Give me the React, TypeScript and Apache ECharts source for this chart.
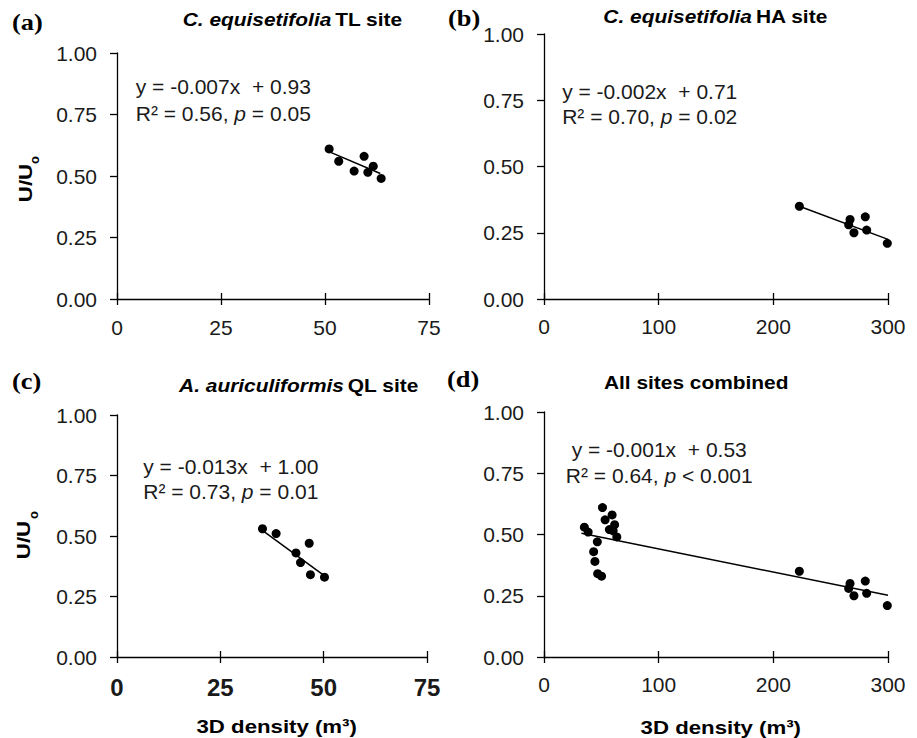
import React, { useEffect, useRef } from "react";
import * as echarts from "echarts";

// ---- data ----
const tlDensity = [51.0, 53.3, 57.0, 59.4, 60.3, 61.6, 63.5];
const tlRatio = [0.61, 0.56, 0.52, 0.58, 0.515, 0.54, 0.49];
const haDensity = [222.7, 266.9, 265.7, 270.3, 280.2, 281.4, 299.4];
const haRatio = [0.35, 0.3, 0.28, 0.25, 0.31, 0.26, 0.21];
const qlDensity = [35.2, 38.5, 43.3, 44.4, 46.5, 46.8, 50.2];
const qlRatio = [0.53, 0.51, 0.43, 0.39, 0.47, 0.34, 0.33];

const trendTL = [[50.8, 0.6], [63.3, 0.51]];
const trendHA = [[222.7, 0.35], [300, 0.225]];
const trendQL = [[35, 0.525], [49.8, 0.34]];
const trendAll = [[32.6, 0.505], [300, 0.252]];

const yTicksMax = 1;
const yInterval = 0.25;
const xMaxSmall = 75;
const xIntSmall = 25;
const xMaxLarge = 300;
const xIntLarge = 100;

const titles = ["TL site", "HA site", "QL site", "All sites combined"];
const speciesNames = ["C. equisetifolia", "C. equisetifolia", "A. auriculiformis", ""];
const panelTags = ["(a)", "(b)", "(c)", "(d)"];
const eqLine1 = ["y = -0.007x  + 0.93", "y = -0.002x  + 0.71", "y = -0.013x  + 1.00", "y = -0.001x  + 0.53"];
const eqR2 = ["R² = 0.56, ", "R² = 0.70, ", "R² = 0.73, ", "R² = 0.64, "];
const eqP = [" = 0.05", " = 0.02", " = 0.01", " < 0.001"];
const yName = "U/U";
const xName = "3D density (m³)";

const zip = (xs: number[], ys: number[]) => xs.map((x, i) => [x, ys[i]]);
const allDensity = [...tlDensity, ...haDensity, ...qlDensity];
const allRatio = [...tlRatio, ...haRatio, ...qlRatio];

const SANS = "'Liberation Sans', Arial, sans-serif";
const SERIF = "'Liberation Serif', 'Times New Roman', serif";
const TXT = "#1a1a1a";

export default function App() {
  const ref = useRef<HTMLDivElement>(null);

  useEffect(() => {
    if (!ref.current) return;
    const chart = echarts.init(ref.current, undefined, { renderer: "svg" });

    const grids = [
      { left: 117, top: 53, width: 312, height: 246 },
      { left: 544, top: 34, width: 344, height: 265 },
      { left: 117, top: 415, width: 310, height: 242 },
      { left: 544, top: 412, width: 344, height: 245 },
    ];
    const xMax = [xMaxSmall, xMaxLarge, xMaxSmall, xMaxLarge];
    const xInt = [xIntSmall, xIntLarge, xIntSmall, xIntLarge];
    const xMargin = [18, 17, 18, 17];

    const xAxes: any[] = [];
    grids.forEach((_, i) => {
      const boldLabels = i === 2;
      xAxes.push({
        gridIndex: i,
        type: "value",
        position: "bottom",
        min: 0,
        max: xMax[i],
        interval: xInt[i],
        axisLine: { show: true, onZero: false, lineStyle: { color: "#000", width: 1.3 } },
        axisTick: { show: true, length: 6, lineStyle: { color: "#000", width: 1.3 } },
        axisLabel: {
          margin: xMargin[i],
          fontSize: boldLabels ? 24 : 21,
          fontWeight: boldLabels ? "bold" : "normal",
          color: TXT,
          fontFamily: SANS,
        },
        splitLine: { show: false },
      });
    });
    grids.forEach((_, i) => {
      xAxes.push({
        gridIndex: i,
        type: "value",
        position: "bottom",
        min: 0,
        max: xMax[i],
        interval: xInt[i],
        axisLine: { show: false, onZero: false },
        axisTick: { show: true, inside: true, length: 6, lineStyle: { color: "#000", width: 1.3 } },
        axisLabel: { show: false },
        splitLine: { show: false },
      });
    });

    const yAxes = grids.map((_, i) => ({
      gridIndex: i,
      type: "value",
      min: 0,
      max: yTicksMax,
      interval: yInterval,
      axisLine: { show: true, onZero: false, lineStyle: { color: "#000", width: 1.3 } },
      axisTick: { show: true, length: 7, lineStyle: { color: "#000", width: 1.3 } },
      axisLabel: {
        margin: 20,
        fontSize: 21,
        color: TXT,
        fontFamily: SANS,
        formatter: (v: number) => v.toFixed(2),
      },
      splitLine: { show: false },
    }));

    const scatterData = [
      zip(tlDensity, tlRatio),
      zip(haDensity, haRatio),
      zip(qlDensity, qlRatio),
      zip(allDensity, allRatio),
    ];
    const trends = [trendTL, trendHA, trendQL, trendAll];

    const series: any[] = [];
    grids.forEach((_, i) => {
      series.push({
        type: "line",
        xAxisIndex: i,
        yAxisIndex: i,
        data: trends[i],
        showSymbol: false,
        symbol: "none",
        lineStyle: { color: "#000", width: 1.5 },
        silent: true,
        z: 2,
      });
      series.push({
        type: "scatter",
        xAxisIndex: i,
        yAxisIndex: i,
        data: scatterData[i],
        symbol: "circle",
        symbolSize: 9,
        itemStyle: { color: "#000", opacity: 1 },
        z: 3,
      });
    });

    const titlePos = [
      [292.5, 19],
      [715.5, 16],
      [298.8, 385],
      [696.2, 382.5],
    ];
    const tagPos = [
      [12, 22],
      [448, 18],
      [12, 381],
      [447, 379],
    ];
    const eqPos = [
      [223.3, 86.7, 113.3],
      [649.7, 91.7, 116.7],
      [230.8, 466.7, 491.7],
      [659.2, 449.3, 475],
    ];

    const graphics: any[] = [];
    grids.forEach((_, i) => {
      const sp = speciesNames[i];
      graphics.push({
        type: "text",
        x: titlePos[i][0],
        y: titlePos[i][1],
        scaleX: 1.1,
        style: {
          text: sp ? `{i|${sp}} {b|${titles[i]}}` : `{b|${titles[i]}}`,
          rich: {
            i: { fontStyle: "italic", fontWeight: "bold", fontSize: 19, fontFamily: SANS, fill: "#000" },
            b: { fontWeight: "bold", fontSize: 19, fontFamily: SANS, fill: "#000" },
          },
          align: "center",
          verticalAlign: "middle",
        },
      });
      graphics.push({
        type: "text",
        x: tagPos[i][0],
        y: tagPos[i][1],
        scaleX: 1.1,
        style: {
          text: panelTags[i],
          font: `bold 24px ${SERIF}`,
          fill: "#000",
          align: "left",
          verticalAlign: "middle",
        },
      });
      graphics.push({
        type: "text",
        x: eqPos[i][0],
        y: eqPos[i][1],
        style: {
          text: eqLine1[i],
          font: `21px ${SANS}`,
          fill: TXT,
          align: "center",
          verticalAlign: "middle",
        },
      });
      graphics.push({
        type: "text",
        x: eqPos[i][0],
        y: eqPos[i][2],
        style: {
          text: `{n|${eqR2[i]}}{p|p}{n|${eqP[i]}}`,
          rich: {
            n: { fontSize: 21, fontFamily: SANS, fill: TXT },
            p: { fontSize: 21, fontFamily: SANS, fontStyle: "italic", fill: TXT },
          },
          align: "center",
          verticalAlign: "middle",
        },
      });
    });

    // y axis names (panels a and c)
    const yNamePos = [
      [25, 183, 34, 160],
      [23, 540, 33, 515],
    ];
    yNamePos.forEach((p) => {
      graphics.push({
        type: "text",
        x: p[0],
        y: p[1],
        rotation: Math.PI / 2,
        scaleX: 1.18,
        style: {
          text: yName,
          font: `bold 19px ${SANS}`,
          fill: "#000",
          align: "center",
          verticalAlign: "middle",
        },
      });
      graphics.push({
        type: "text",
        x: p[2],
        y: p[3],
        rotation: Math.PI / 2,
        style: {
          text: "o",
          font: `bold 13px ${SANS}`,
          fill: "#000",
          align: "center",
          verticalAlign: "middle",
        },
      });
    });

    // x axis names (panels c and d)
    const xNamePos = [
      [276.7, 725.7],
      [720.8, 726.7],
    ];
    xNamePos.forEach((p) => {
      graphics.push({
        type: "text",
        x: p[0],
        y: p[1],
        scaleX: 1.17,
        style: {
          text: xName,
          font: `bold 19px ${SANS}`,
          fill: "#000",
          align: "center",
          verticalAlign: "middle",
        },
      });
    });

    chart.setOption({
      animation: false,
      backgroundColor: "#ffffff",
      grid: grids.map((g) => ({ ...g, containLabel: false, outerBoundsMode: "none" })),
      xAxis: xAxes,
      yAxis: yAxes,
      series,
      graphic: graphics,
    });

    return () => chart.dispose();
  }, []);

  return (
    <div
      ref={ref}
      style={{ position: "fixed", left: 0, top: 0, width: 917, height: 738, background: "#fff" }}
    />
  );
}
